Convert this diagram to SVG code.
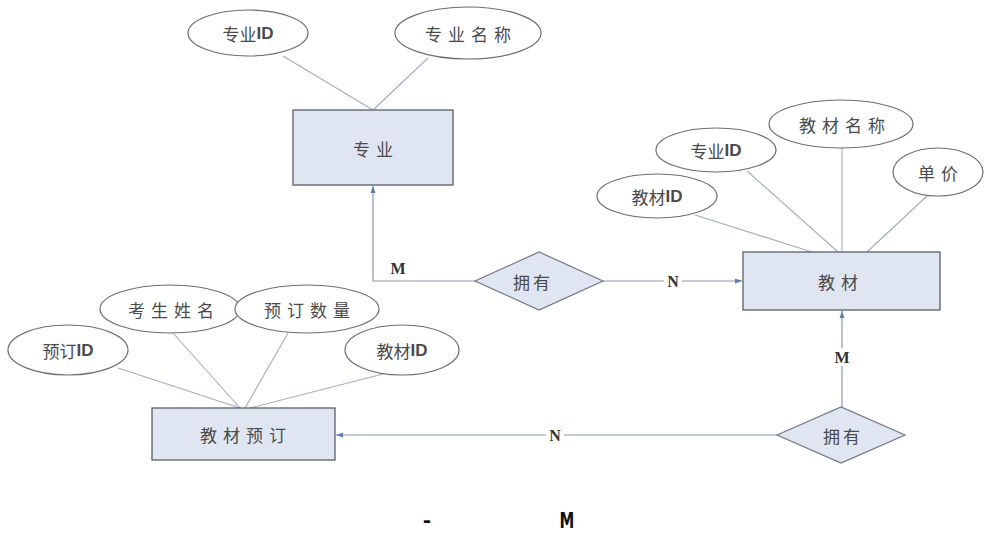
<svg xmlns="http://www.w3.org/2000/svg" width="984" height="535" viewBox="0 0 984 535">
<style>
.ent{fill:#dfe6f2;stroke:#5a5f6a;stroke-width:1.3}
.att{fill:#ffffff;stroke:#6e6e6e;stroke-width:1.2}
.rel{fill:#dfe6f2;stroke:#707784;stroke-width:1.2}
.al{stroke:#a3acc2;stroke-width:1.1;fill:none}
.cl{stroke:#8996b4;stroke-width:1.2;fill:none}
.t{font-family:"Noto Sans CJK SC","Liberation Serif",serif;font-size:17px;fill:#4a4a4a;text-anchor:middle;dominant-baseline:central}
.w{letter-spacing:6px}
.id{font-family:"Liberation Sans",Arial,sans-serif;font-weight:bold}
.lab{font-family:"Liberation Serif","Times New Roman",serif;font-weight:bold;font-size:16px;fill:#333;text-anchor:middle;dominant-baseline:central}
.cap{font-family:"DejaVu Sans Condensed","DejaVu Sans",sans-serif;font-weight:bold;font-size:22px;fill:#111;text-anchor:middle}
</style>
<defs>
<marker id="arr" markerWidth="8" markerHeight="8" refX="7" refY="4" orient="auto" markerUnits="userSpaceOnUse">
<path d="M0,1.5 L7,4 L0,6.5 Z" fill="#5b7db8"/>
</marker>
</defs>
<rect width="984" height="535" fill="#ffffff"/>
<g id="connectors">
<line class="al" x1="283" y1="56" x2="373" y2="110"/>
<line class="al" x1="428" y1="58" x2="373" y2="110"/>
<line class="al" x1="695" y1="215" x2="812" y2="252"/>
<line class="al" x1="747" y1="171" x2="838" y2="252"/>
<line class="al" x1="842" y1="148" x2="842" y2="252"/>
<line class="al" x1="927" y1="196" x2="867" y2="252"/>
<line class="al" x1="118" y1="368" x2="240" y2="408"/>
<line class="al" x1="173" y1="333" x2="240" y2="408"/>
<line class="al" x1="288" y1="333" x2="245" y2="408"/>
<line class="al" x1="383" y1="374" x2="250" y2="408"/>
<polyline class="cl" points="475,281 373,281 373,186" marker-end="url(#arr)"/>
<line class="cl" x1="603" y1="281" x2="742" y2="281" marker-end="url(#arr)"/>
<line class="cl" x1="842" y1="407" x2="842" y2="311" marker-end="url(#arr)"/>
<line class="cl" x1="777" y1="435" x2="336" y2="435" marker-end="url(#arr)"/>
<rect x="388" y="259" width="20" height="18" fill="#fff"/>
<text class="lab" x="398" y="268">M</text>
<rect x="664" y="273" width="18" height="16" fill="#fff"/>
<text class="lab" x="673" y="281">N</text>
<rect x="832" y="348" width="20" height="18" fill="#fff"/>
<text class="lab" x="842" y="357">M</text>
<rect x="546" y="427" width="18" height="16" fill="#fff"/>
<text class="lab" x="555" y="435">N</text>
</g>
<g id="e-zhuanye"><rect class="ent" x="293" y="110" width="160" height="75"/><text class="t w" x="376" y="148">专业</text></g>
<g id="e-jiaocai"><rect class="ent" x="743" y="252" width="197" height="58"/><text class="t w" x="841" y="281">教材</text></g>
<g id="e-yuding"><rect class="ent" x="152" y="408" width="183" height="52"/><text class="t w" x="246" y="434">教材预订</text></g>
<g id="r-yongyou1"><polygon class="rel" points="475,281 539,252 603,281 539,310"/><text class="t" x="533" y="281" style="letter-spacing:3px">拥有</text></g>
<g id="r-yongyou2"><polygon class="rel" points="777,435 841,407 905,435 841,463"/><text class="t" x="843" y="435" style="letter-spacing:3px">拥有</text></g>
<g id="a-zyid"><ellipse class="att" cx="248" cy="33" rx="60" ry="23"/><text class="t" x="248" y="33">专业<tspan class="id">ID</tspan></text></g>
<g id="a-zymc"><ellipse class="att" cx="468" cy="33" rx="73" ry="26"/><text class="t w" x="471" y="33">专业名称</text></g>
<g id="a-jcmc"><ellipse class="att" cx="841" cy="124" rx="72" ry="24"/><text class="t w" x="845" y="124">教材名称</text></g>
<g id="a-zyid2"><ellipse class="att" cx="716" cy="150" rx="60" ry="22"/><text class="t" x="716" y="150">专业<tspan class="id">ID</tspan></text></g>
<g id="a-dj"><ellipse class="att" cx="938" cy="172" rx="45" ry="24"/><text class="t w" x="941" y="172">单价</text></g>
<g id="a-jcid"><ellipse class="att" cx="657" cy="196" rx="60" ry="22"/><text class="t" x="657" y="196">教材<tspan class="id">ID</tspan></text></g>
<g id="a-ydid"><ellipse class="att" cx="68" cy="350" rx="60" ry="25"/><text class="t" x="68" y="350">预订<tspan class="id">ID</tspan></text></g>
<g id="a-kszm"><ellipse class="att" cx="170" cy="309" rx="70" ry="24"/><text class="t w" x="174" y="309">考生姓名</text></g>
<g id="a-ydsl"><ellipse class="att" cx="307" cy="309" rx="72" ry="24"/><text class="t w" x="310" y="309">预订数量</text></g>
<g id="a-jcid2"><ellipse class="att" cx="402" cy="350" rx="57" ry="25"/><text class="t" x="402" y="350">教材<tspan class="id">ID</tspan></text></g>
<text class="cap" transform="translate(427,528) scale(0.8,1)">–</text>
<text class="cap" transform="translate(567,528) scale(0.75,1)">M</text>
</svg>
